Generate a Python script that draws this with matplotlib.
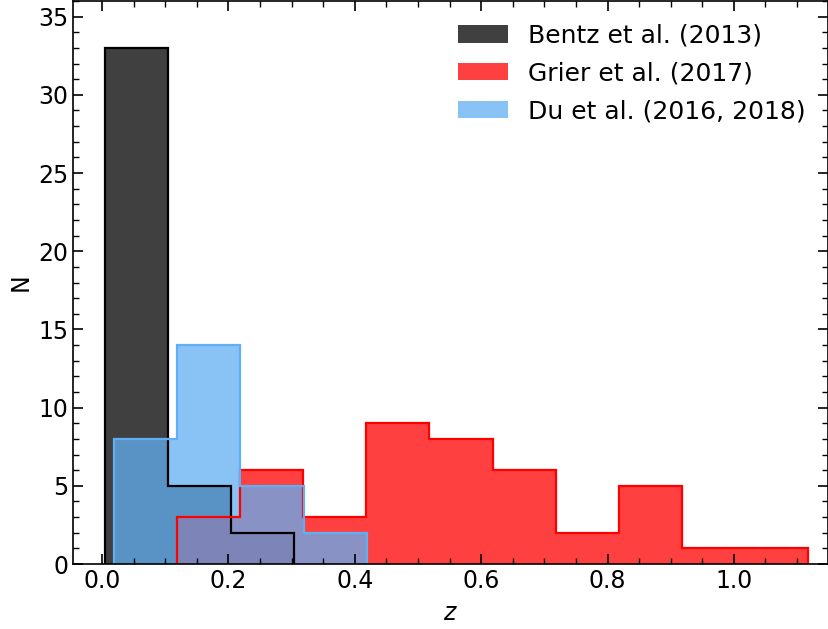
import matplotlib
matplotlib.use("Agg")
import matplotlib.pyplot as plt
from matplotlib.ticker import MultipleLocator
from matplotlib.patches import Patch

# Data
bentz_edges = [0.004, 0.104, 0.204, 0.304]
bentz_counts = [33, 5, 2]
grier_edges = [0.118, 0.218, 0.318, 0.418, 0.518, 0.618, 0.718, 0.818, 0.918, 1.018, 1.118]
grier_counts = [3, 6, 3, 9, 8, 6, 2, 5, 1, 1]
du_edges = [0.019, 0.119, 0.219, 0.319, 0.419]
du_counts = [8, 14, 5, 2]
labels = ["Bentz et al. (2013)", "Grier et al. (2017)", "Du et al. (2016, 2018)"]

c_black = "#000000"
c_red = "#ff0000"
c_blue = "#62aef2"

fig = plt.figure(figsize=(8.29, 6.29), dpi=100)
ax = fig.add_axes([73/829, 65/629, 755/829, 563/629])

ax.stairs(bentz_counts, bentz_edges, fill=True, color=c_black, alpha=0.75, lw=0)
ax.stairs(grier_counts, grier_edges, fill=True, color=c_red, alpha=0.75, lw=0)
ax.stairs(du_counts, du_edges, fill=True, color=c_blue, alpha=0.75, lw=0)
ax.stairs(bentz_counts, bentz_edges, color=c_black, lw=1.6)
ax.stairs(grier_counts, grier_edges, color=c_red, lw=1.6)
ax.stairs(du_counts, du_edges, color=c_blue, lw=1.6)

ax.set_xlim(-0.046, 1.149)
ax.set_ylim(0, 36)
ax.xaxis.set_major_locator(MultipleLocator(0.2))
ax.xaxis.set_minor_locator(MultipleLocator(0.05))
ax.yaxis.set_major_locator(MultipleLocator(5))
ax.yaxis.set_minor_locator(MultipleLocator(1))
ax.tick_params(which="both", direction="in", top=True, right=True, labelsize=17)
ax.tick_params(which="major", length=7, width=1.2)
ax.tick_params(which="minor", length=4, width=1)
for s in ax.spines.values():
    s.set_linewidth(1.2)

ax.set_xlabel("$z$", fontsize=17, labelpad=6)
ax.set_ylabel("N", fontsize=17)

handles = [Patch(facecolor=c_black, alpha=0.75, lw=0),
           Patch(facecolor=c_red, alpha=0.75, lw=0),
           Patch(facecolor=c_blue, alpha=0.75, lw=0)]
ax.legend(handles, labels, loc="upper right", frameon=False, fontsize=18,
          labelspacing=0.55)

fig.savefig("out.png", dpi=100)
